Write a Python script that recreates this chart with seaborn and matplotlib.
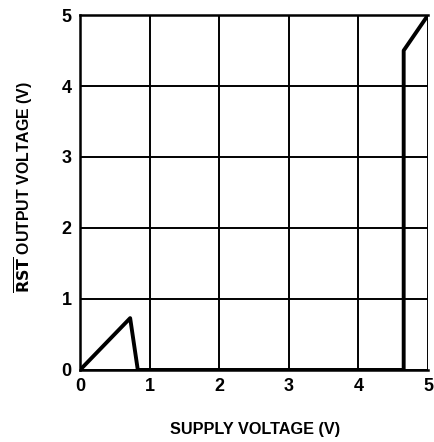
import matplotlib
matplotlib.use("Agg")
import matplotlib.pyplot as plt
import seaborn as sns
import pandas as pd

# ── 数据 ──────────────────────────────────────────────
supply_v = [0.0, 0.72, 0.83, 4.65, 4.65, 5.0]
rst_v = [0.0, 0.73, 0.0, 0.0, 4.5, 5.0]
x_ticks = [0, 1, 2, 3, 4, 5]
y_ticks = [0, 1, 2, 3, 4, 5]

df = pd.DataFrame({"supply": supply_v, "rst": rst_v})

sns.set_theme(style="white")
plt.rcParams["font.family"] = ["Liberation Sans Narrow", "Liberation Sans", "DejaVu Sans"]
plt.rcParams["font.weight"] = "bold"
plt.rcParams["mathtext.fontset"] = "custom"
plt.rcParams["mathtext.rm"] = "Liberation Sans Narrow:bold"
plt.rcParams["mathtext.bf"] = "Liberation Sans Narrow:bold"

fig = plt.figure(figsize=(4.35, 4.42), dpi=100)
ax = fig.add_axes([0.184, 0.163, 0.8, 0.803])

sns.lineplot(data=df, x="supply", y="rst", sort=False, estimator=None,
             color="black", linewidth=2.8, ax=ax)

ax.set_xlim(0, 5)
ax.set_ylim(0, 5)
ax.set_xticks(x_ticks)
ax.set_yticks(y_ticks)
ax.grid(True, color="black", linewidth=1.4)
for s in ax.spines.values():
    s.set_color("black")
    s.set_linewidth(1.8)
ax.spines["right"].set_visible(False)

ax.tick_params(axis="both", length=0, labelsize=13, pad=6, colors="black")
for lab in ax.get_xticklabels() + ax.get_yticklabels():
    lab.set_fontweight("bold")

ax.set_xlabel("SUPPLY VOLTAGE (V)", fontsize=11.7, fontweight="bold", color="black")
ax.set_ylabel(r"$\overline{\mathrm{RST}}$ OUTPUT VOLTAGE (V)", fontsize=11.4,
              fontweight="bold", color="black")
ax.xaxis.set_label_coords(0.503, -0.148)
ax.yaxis.set_label_coords(-0.128, 0.515)

fig.savefig("out.png", dpi=100)
